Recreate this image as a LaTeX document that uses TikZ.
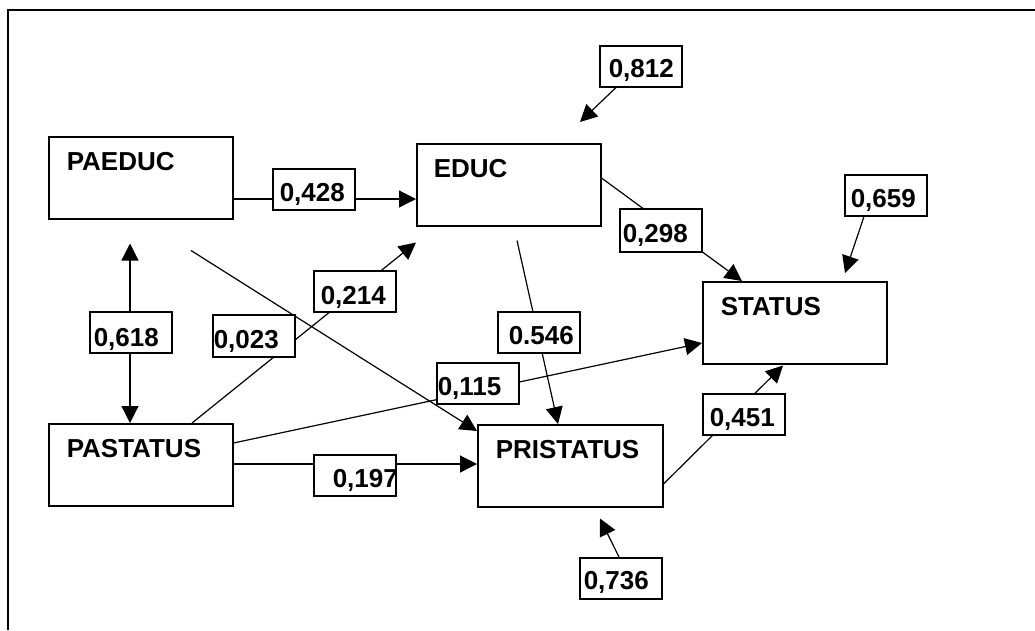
\documentclass[tikz,border=0pt]{standalone}
\usepackage{fontspec}
\setmainfont{Liberation Sans}
\usetikzlibrary{arrows.meta,calc}
\pgfdeclarelayer{bg}
\pgfsetlayers{bg,main}
\begin{document}
\begin{tikzpicture}[x=1pt,y=-1pt,
  every node/.style={font=\fontsize{26}{30}\selectfont\bfseries},
  var/.style={draw,line width=1.5pt,fill=white,anchor=north west,inner xsep=0pt,inner ysep=0pt,
    text width=184pt,align=left,text height=34pt,text depth=48pt},
  coef/.style={draw,line width=1.5pt,fill=white,anchor=north west,inner xsep=0pt,inner ysep=0pt,
    text width=82pt,align=left,text height=33pt,text depth=8pt},
  conn/.style={line width=1.2pt,-{Triangle[length=17pt,width=17pt]}},
  dconn/.style={line width=1.2pt,{Triangle[length=17pt,width=17pt]}-{Triangle[length=17pt,width=17pt]}},
  framebar/.style={line width=1.2pt}]
\useasboundingbox (0,0) rectangle (1035,630);
% frame
\coordinate (ftl) at (8,10);
\coordinate (ftr) at (1035,10);
\coordinate (fbl) at (8,630);
\draw[framebar] (ftr) -- (ftl) -- (fbl);
% variables
\node[var] (paeduc) at (48,136) {\hspace*{18pt}PAEDUC};
\node[var] (educ) at (416,143) {\hspace*{17pt}EDUC};
\node[var] (status) at (702,281) {\hspace*{18pt}STATUS};
\node[var] (pastatus) at (48,423) {\hspace*{18pt}PASTATUS};
\node[var,text width=185pt,text height=34pt] (pristatus) at (477,424) {\hspace*{18pt}PRISTATUS};
% coefficients
\node[coef] (c428) at (272,168) {\hspace*{7pt}0,428};
\node[coef,text height=35pt,text depth=6pt] (c618) at (89,311) {\hspace*{4pt}0,618};
\node[coef,text height=34pt] (c023) at (212,314) {\hspace*{1pt}0,023};
\node[coef,text height=34pt,text depth=7pt] (c214) at (313,270) {\hspace*{7pt}0,214};
\node[coef,text height=32pt,text depth=9pt] (c812) at (599,45) {\hspace*{9pt}0,812};
\node[coef,text height=34pt,text depth=9pt] (c298) at (619,208) {\hspace*{3pt}0,298};
\node[coef] (c659) at (844,174) {\hspace*{6pt}0,659};
\node[coef] (c546) at (497,311) {\hspace*{11pt}0.546};
\node[coef] (c115) at (436,362) {\hspace*{1pt}0,115};
\node[coef] (c451) at (702,393) {\hspace*{7pt}0,451};
\node[coef] (c197) at (313,454) {\hspace*{19pt}0,197};
\node[coef,text height=32pt,text depth=9pt] (c736) at (579,557) {\hspace*{4pt}0,736};
% connectors
\begin{pgfonlayer}{bg}
\draw[conn] ($(paeduc.north east)+(0,63)$) -- ($(educ.north west)+(0,56)$);
\draw[dconn] ($(paeduc.south west)+(82,24)$) -- ($(pastatus.north west)+(82,0)$);
\draw[conn] ($(paeduc.south west)+(143,31)$) -- ($(pristatus.north west)+(0,7)$);
\draw[conn] ($(pastatus.north west)+(144,0)$) -- ($(educ.south west)+(0,16)$);
\draw[conn] ($(pastatus.north east)+(0,20)$) -- ($(status.north west)+(0,62)$);
\draw[conn] ($(pastatus.north east)+(0,41)$) -- ($(pristatus.north west)+(0,40)$);
\draw[conn] ($(educ.south west)+(101,14)$) -- ($(pristatus.north west)+(81,0)$);
\draw[conn] ($(educ.north east)+(0,35)$) -- ($(status.north west)+(40,0)$);
\draw[conn] ($(pristatus.north east)+(0,60)$) -- ($(status.south west)+(81,1)$);
\draw[conn] ($(c812.south west)+(17,0)$) -- ($(educ.north west)+(164,-21)$);
\draw[conn] ($(c659.south west)+(20,0)$) -- ($(status.north west)+(143,-8)$);
\draw[conn] ($(c736.north west)+(40,0)$) -- ($(pristatus.south west)+(123,11)$);
\end{pgfonlayer}
\end{tikzpicture}
\end{document}
